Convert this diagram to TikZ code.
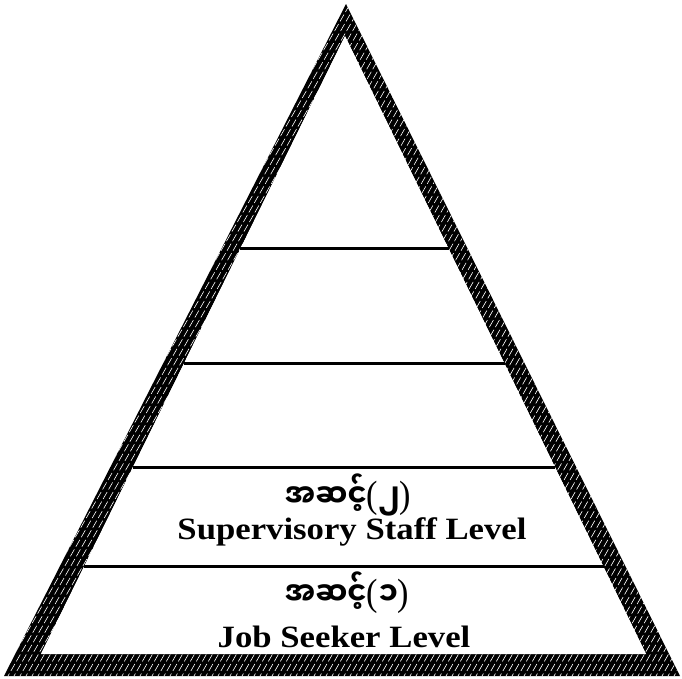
\documentclass[tikz,border=0pt]{standalone}
\usepackage{fontspec}
\setmainfont{Liberation Serif}
\newfontfamily\mya[Script=Myanmar]{Noto Sans Myanmar UI}
\usetikzlibrary{calc}
\newcommand{\bigpar}[1]{{\rmfamily\mdseries\fontsize{38}{40}\selectfont #1}}
\tikzset{
  level/.style={line width=3pt, line cap=butt},
  hatch/.style={white, line width=0.6pt, dash pattern=on 8pt off 3pt},
  mytext/.style={font=\mya\bfseries\fontsize{32}{36}\selectfont, xscale=0.9, anchor=base, inner sep=0pt},
  entext/.style={font=\bfseries\fontsize{31}{34}\selectfont, xscale=1.12, anchor=base, inner sep=0pt}
}
\begin{document}
\begin{tikzpicture}[x=1pt,y=-1pt]
\useasboundingbox (0,0) rectangle (682,678);
\coordinate (OA) at (346,4);
\coordinate (OL) at (4,676);
\coordinate (OR) at (680,676);
\coordinate (IA) at (345,36);
\coordinate (IL) at (41,654);
\coordinate (IR) at (646,654);
\fill[black, even odd rule] (OA)--(OL)--(OR)--cycle (IA)--(IL)--(IR)--cycle;
\begin{scope}
  \clip (OA)--(OL)--(OR)--cycle;
  \foreach \k in {-420,-414,...,700} \draw[hatch] (\k,690)--++(400,-700);
\end{scope}
\fill[white] (IA)--(IL)--(IR)--cycle;
\foreach \n/\t in {1/0.344,2/0.530,3/0.698,4/0.859}{
  \coordinate (L\n) at ($(IA)!\t!(IL)$);
  \coordinate (R\n) at ($(IA)!\t!(IR)$);
  \draw[level] (L\n) -- (R\n);
}
\node[mytext] (m2) at (348,507) {အဆင့်\bigpar{(}၂\bigpar{)}};
\node[entext] (t2) at (352,539) {Supervisory Staff Level};
\node[mytext] (m1) at (347,605) {အဆင့်\bigpar{(}၁\bigpar{)}};
\node[entext] (t1) at (344,647) {Job Seeker Level};
\end{tikzpicture}
\end{document}
